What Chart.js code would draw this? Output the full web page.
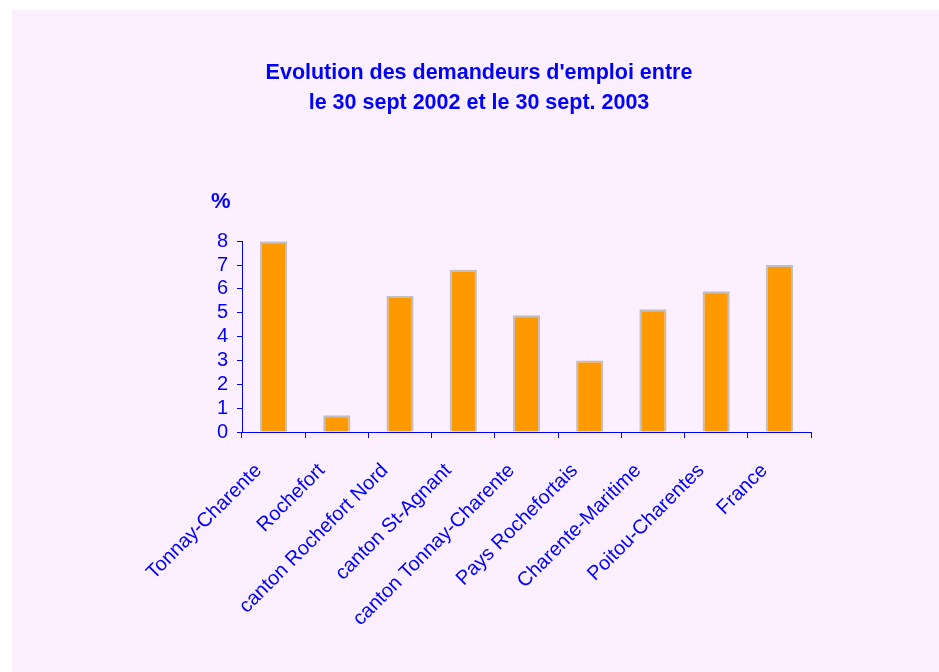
<!DOCTYPE html>
<html>
<head>
<meta charset="utf-8">
<script src="https://cdn.jsdelivr.net/npm/chart.js@4/dist/chart.umd.min.js"></script>
<style>
  html, body { margin: 0; padding: 0; background: #ffffff; }
  #panel { position: absolute; left: 12px; top: 10px; width: 927px; height: 662px; background: #fcefff; }
  canvas { display: block; }
</style>
</head>
<body>
<div id="panel"><canvas id="chart" width="927" height="662"></canvas></div>
<script>
const titleLines = ["Evolution des demandeurs d'emploi entre", 'le 30 sept 2002 et le 30 sept. 2003'];
const unitLabel = '%';
const places = [
    'Tonnay-Charente',
    'Rochefort',
    'canton Rochefort Nord',
    'canton St-Agnant',
    'canton Tonnay-Charente',
    'Pays Rochefortais',
    'Charente-Maritime',
    'Poitou-Charentes',
    'France'
];
const changePct = [8.0, 0.7, 5.7, 6.8, 4.9, 3.0, 5.15, 5.9, 7.0];
const yTicks = { min: 0, max: 8, step: 1 };

const BLUE = '#0000ff';
const FONT = '"Liberation Sans", Arial, sans-serif';

// "%" sits horizontally above the value axis
const unitPlugin = {
    id: 'unitLabel',
    afterDraw(chart) {
        const { ctx, chartArea } = chart;
        ctx.save();
        ctx.fillStyle = BLUE;
        ctx.font = 'bold 22px ' + FONT;
        ctx.textAlign = 'left';
        ctx.textBaseline = 'middle';
        ctx.fillText(unitLabel, chartArea.left - 31, chartArea.top - 39);
        ctx.restore();
    }
};

const ctx = document.getElementById('chart');

new Chart(ctx, {
    type: 'bar',
    data: {
        labels: places,
        datasets: [{
            data: changePct,
            xAxisID: 'x',
            yAxisID: 'y',
            backgroundColor: '#ff9900',
            borderColor: '#c0bfc4',
            borderWidth: 2,
            barPercentage: 0.43,
            categoryPercentage: 1
        }]
    },
    options: {
        responsive: false,
        animation: false,
        layout: { padding: { top: 40, left: 7, right: 0, bottom: 0 } },
        plugins: {
            legend: { display: false },
            tooltip: { enabled: false },
            title: {
                display: true,
                text: titleLines,
                color: BLUE,
                font: { family: FONT, size: 21.5, weight: 'bold', lineHeight: 1.4 },
                padding: { top: 8, bottom: 123 }
            }
        },
        scales: {
            x: {
                grid: {
                    offset: true,
                    drawOnChartArea: false,
                    drawTicks: true,
                    tickLength: 6,
                    color: BLUE
                },
                border: { display: true, color: BLUE, width: 1 },
                ticks: {
                    color: BLUE,
                    font: { family: FONT, size: 20 },
                    minRotation: 45,
                    maxRotation: 45,
                    autoSkip: false,
                    labelOffset: -15,
                    padding: 21
                },
                afterFit(scale) { scale.height = 240; }
            },
            y: {
                min: yTicks.min,
                max: yTicks.max,
                grid: {
                    drawOnChartArea: false,
                    drawTicks: true,
                    tickLength: 5,
                    color: BLUE
                },
                border: { display: true, color: BLUE, width: 1 },
                ticks: {
                    stepSize: yTicks.step,
                    autoSkip: false,
                    color: BLUE,
                    font: { family: FONT, size: 20 },
                    padding: 9
                },
                afterFit(scale) { scale.width = 223; }
            },
            spacer: {
                position: 'right',
                display: true,
                grid: { display: false },
                border: { display: false },
                ticks: { display: false },
                afterFit(scale) { scale.width = 128; }
            }
        }
    },
    plugins: [unitPlugin]
});
</script>
</body>
</html>
